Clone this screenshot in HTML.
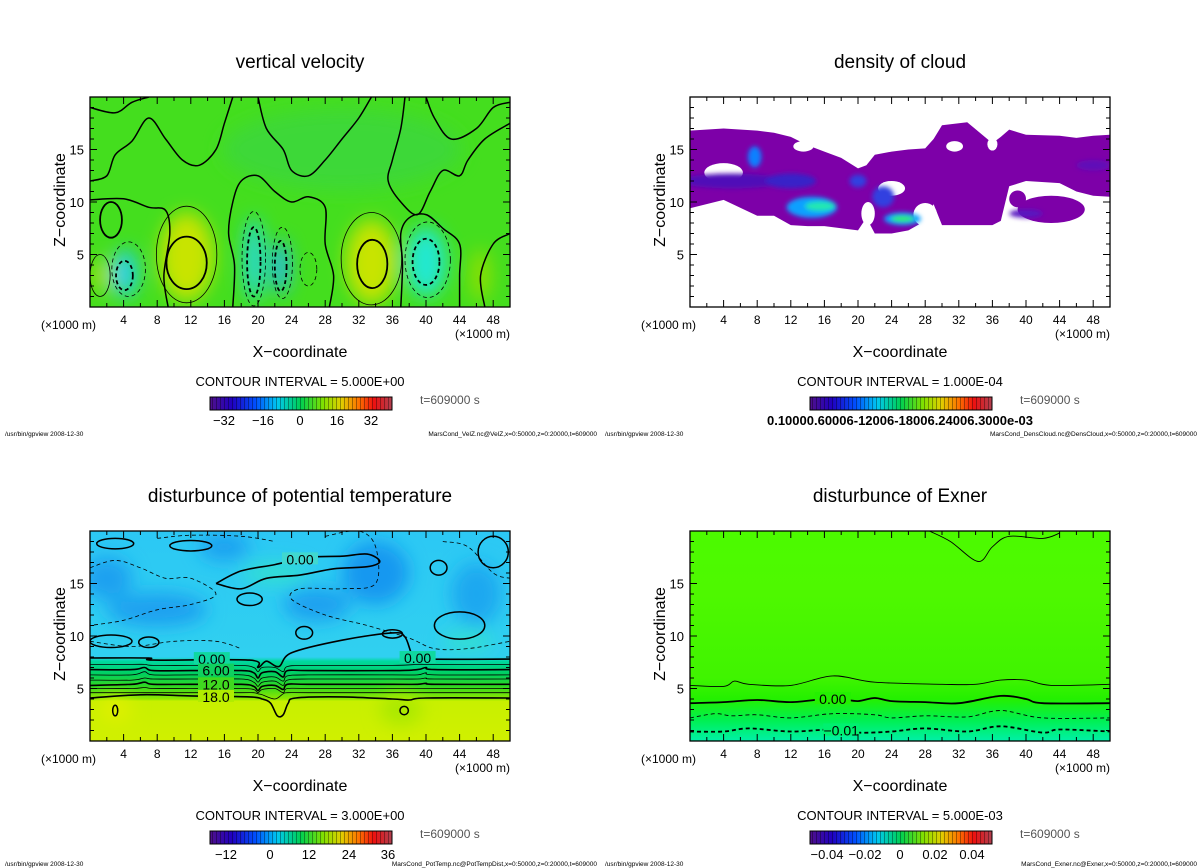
<!DOCTYPE html>
<html><head><meta charset="utf-8"><style>
html,body{margin:0;padding:0;background:#fff;}
svg{display:block;font-family:"Liberation Sans",sans-serif;}
.t{font-size:19px;text-anchor:middle;}
.lab{font-size:16px;text-anchor:middle;}
.tk{font-size:12px;text-anchor:middle;}
.yt{font-size:13px;text-anchor:end;}
.ci{font-size:13px;text-anchor:middle;}
.tm{font-size:12px;fill:#555;}
.ft{font-size:6.5px;}
.cl{font-size:13px;font-weight:bold;}
</style></head><body>
<svg id="fig" width="1200" height="868" viewBox="0 0 1200 868" xmlns="http://www.w3.org/2000/svg">
<defs>
<linearGradient id="rb" x1="0" x2="1" y1="0" y2="0">
<stop offset="0" stop-color="#50108a"/><stop offset="0.12" stop-color="#2000c0"/><stop offset="0.25" stop-color="#0050ff"/><stop offset="0.37" stop-color="#00c8f0"/><stop offset="0.5" stop-color="#00d050"/><stop offset="0.62" stop-color="#80e000"/><stop offset="0.72" stop-color="#e0d000"/><stop offset="0.82" stop-color="#ff7000"/><stop offset="0.9" stop-color="#ee1010"/><stop offset="1" stop-color="#b04050"/>
</linearGradient>
<pattern id="stripes" width="4" height="20" patternUnits="userSpaceOnUse"><rect x="0" y="0" width="1" height="20" fill="rgba(0,0,0,0.35)"/></pattern>
<filter id="bl" x="-50%" y="-50%" width="200%" height="200%"><feGaussianBlur stdDeviation="9"/></filter>
<filter id="bl2" x="-50%" y="-50%" width="200%" height="200%"><feGaussianBlur stdDeviation="2.5"/></filter>
<linearGradient id="exg" x1="0" x2="0" y1="0" y2="1">
<stop offset="0" stop-color="#4cfb00"/><stop offset="0.3" stop-color="#4ef800"/><stop offset="0.7" stop-color="#40f400"/><stop offset="0.8" stop-color="#24f000"/><stop offset="0.9" stop-color="#00f050"/><stop offset="1" stop-color="#00f0a8"/>
</linearGradient>
<linearGradient id="ptg" x1="0" x2="0" y1="0" y2="1">
<stop offset="0" stop-color="#2cc8f4"/><stop offset="0.6" stop-color="#30d0f0"/><stop offset="0.62" stop-color="#00d8a0"/><stop offset="0.68" stop-color="#00d060"/><stop offset="0.74" stop-color="#30d820"/><stop offset="0.8" stop-color="#90e800"/><stop offset="0.81" stop-color="#c8f000"/><stop offset="1" stop-color="#d0f000"/>
</linearGradient>
<clipPath id="c0"><rect x="90" y="97" width="420" height="210"/></clipPath>
<clipPath id="c1"><rect x="690" y="97" width="420" height="210"/></clipPath>
<clipPath id="c2"><rect x="90" y="531" width="420" height="210"/></clipPath>
<clipPath id="c3"><rect x="690" y="531" width="420" height="210"/></clipPath>
</defs>

<text class="t" x="300" y="68">vertical velocity</text>
<text class="t" x="900" y="68">density of cloud</text>
<text class="t" x="300" y="502">disturbunce of potential temperature</text>
<text class="t" x="900" y="502">disturbunce of Exner</text>

<text class="lab" transform="translate(65,200) rotate(-90)">Z−coordinate</text>
<text class="lab" transform="translate(665,200) rotate(-90)">Z−coordinate</text>
<text class="lab" transform="translate(65,634) rotate(-90)">Z−coordinate</text>
<text class="lab" transform="translate(665,634) rotate(-90)">Z−coordinate</text>

<text class="lab" x="300" y="357">X−coordinate</text>
<text class="lab" x="900" y="357">X−coordinate</text>
<text class="lab" x="300" y="791">X−coordinate</text>
<text class="lab" x="900" y="791">X−coordinate</text>

<g font-size="12">
<text x="41" y="329">(×1000 m)</text>
<text x="455" y="338">(×1000 m)</text>
<text x="641" y="329">(×1000 m)</text>
<text x="1055" y="338">(×1000 m)</text>
<text x="41" y="763">(×1000 m)</text>
<text x="455" y="772">(×1000 m)</text>
<text x="641" y="763">(×1000 m)</text>
<text x="1055" y="772">(×1000 m)</text>
</g>

<text class="ci" x="300" y="386">CONTOUR INTERVAL = 5.000E+00</text>
<text class="ci" x="900" y="386">CONTOUR INTERVAL = 1.000E-04</text>
<text class="ci" x="300" y="820">CONTOUR INTERVAL = 3.000E+00</text>
<text class="ci" x="900" y="820">CONTOUR INTERVAL = 5.000E-03</text>

<text class="tm" x="420" y="404">t=609000 s</text>
<text class="tm" x="1020" y="404">t=609000 s</text>
<text class="tm" x="420" y="838">t=609000 s</text>
<text class="tm" x="1020" y="838">t=609000 s</text>

<text class="ft" x="5" y="436">/usr/bin/gpview  2008-12-30</text>
<text class="ft" x="597" y="436" text-anchor="end">MarsCond_VelZ.nc@VelZ,x=0:50000,z=0:20000,t=609000</text>
<text class="ft" x="605" y="436">/usr/bin/gpview  2008-12-30</text>
<text class="ft" x="1197" y="436" text-anchor="end">MarsCond_DensCloud.nc@DensCloud,x=0:50000,z=0:20000,t=609000</text>
<text class="ft" x="5" y="866">/usr/bin/gpview  2008-12-30</text>
<text class="ft" x="597" y="866" text-anchor="end">MarsCond_PotTemp.nc@PotTempDist,x=0:50000,z=0:20000,t=609000</text>
<text class="ft" x="605" y="866">/usr/bin/gpview  2008-12-30</text>
<text class="ft" x="1197" y="866" text-anchor="end">MarsCond_Exner.nc@Exner,x=0:50000,z=0:20000,t=609000</text>

<text class="cl" x="900" y="425" text-anchor="middle">0.10000.60006-12006-18006.24006.3000e-03</text>

<g id="layer"></g>
</svg>
<script>
const xTicks = [4,8,12,16,20,24,28,32,36,40,44,48];
const yTicks = [5,10,15];
const cbLabels1 = ["−32","−16","0","16","32"];
const cbPos1 = [224,263,300,337,371];
const cbLabels3 = ["−12","0","12","24","36"];
const cbPos3 = [226,270,309,349,388];
const cbLabels4 = ["−0.04","−0.02","0","0.02","0.04"];
const cbPos4 = [827,865,900,935,972];

const vvBlobs = [[11.5,4.8,3.2,4.2,"#c8e400"],[33.5,4.3,3.0,4.0,"#c8e400"],[4.2,3.2,1.4,2.3,"#20d0f0"],[19.5,4.5,1.1,4.0,"#20d8e0"],[22.7,3.8,1.0,2.6,"#20b8f0"],[40,4.3,2.4,3.3,"#20e8d0"],[1.5,3,1.2,1.6,"#a0e000"],[46.5,3,1.2,2.5,"#90e000"]];
const vvRings = [[11.5,4.2,2.4,2.5,0,1],[11.5,5,3.6,4.6,0,0],[33.6,4.1,1.8,2.3,0,1],[33.5,4.6,3.6,4.4,0,0],[4.1,3,1.0,1.4,1,1],[4.6,3.6,2.0,2.6,1,0],[40,4.3,1.6,2.2,1,1],[40.2,4.5,2.7,3.6,1,0],[19.5,4.3,0.8,3.3,1,1],[19.5,4.6,1.4,4.5,1,0],[22.7,3.9,0.7,2.4,1,1],[22.9,4.2,1.2,3.4,1,0],[1.2,3,1.2,2,0,0],[26,3.6,1.0,1.6,1,0],[2.5,8.3,1.3,1.7,0,1]];
const vvLine1 = [[0,12],[2,12.5],[3,14.5],[5,15.8],[7,18],[9,16],[11,14],[13,13.5],[15,15],[16,17.5],[17,20]];
const vvLine2 = [[20,20],[21,17],[23,15],[24,13],[26,12.5],[28,14],[30,16],[32,18],[33.5,20]];
const vvLine3 = [[37.5,20],[37,17],[36,14],[35.5,12],[37,10],[39,8.8],[40.5,11],[42,13],[44,12.5],[45,14],[47,16],[50,17.5]];
const vvLine4 = [[0,10.2],[4,10.3],[7,9.5],[9,9.2],[9.5,7],[8.8,3],[9.3,0]];
const vvLine5 = [[17,0],[17.2,4],[16.5,7],[17,10],[18,12],[20,12.5],[22,11],[24,10],[26,10.5],[28,9.5],[28,6],[29,3],[28.5,0]];
const vvLine6 = [[37,0],[37.2,4],[37,7],[38,8.5],[40,8.8],[42,7.5],[44,6],[44,3],[44,0]];
const vvLine7 = [[47,0],[46.5,3],[48,6],[50,7]];
const vvLine8 = [[0,19],[3,18.5],[5,19.5],[7,20]];
const vvLine9 = [[40,20],[41,18],[43,16],[46,17],[48,19],[50,19.5]];

const clX = [0,4,8,10,12,14,16,18,20,21,22,24,26,28,29,30,33,36,37,38,40,44,46,48,50];
const clTop = [16.8,17,16.8,16.6,16.2,15.4,14.8,14.2,13.2,13.5,14.5,14.8,15,15.1,16,17.3,17.6,15.6,16.2,16.9,16.4,16.3,16.1,16.3,16.4];
const clBot = [9.4,10.2,8.7,8.7,7.8,7.7,7.7,7.5,7.3,8.5,7.0,7.0,7.3,8.2,9.8,7.8,7.8,7.8,8.2,11.5,12,11.8,11,10.6,10.5];
const clHoles = [[4,12.8,2.3,0.9],[24,11.3,1.6,0.7],[21.2,8.9,0.8,1.1],[28,8.8,1.4,1.1],[13.5,15.3,1.2,0.5],[31.5,15.3,1.0,0.5],[36,15.5,0.6,0.6],[2,8.5,2,1]];
const clExtra = [[43,9.3,4,1.3],[39,10.3,1,0.8]];
const clCores = [[5,12,6,0.7,"#5010b8"],[7.7,14.3,0.8,1.0,"#1080ff"],[12,12,3,0.7,"#3820c8"],[14.5,9.5,3.0,1.0,"#10a0ff"],[15.5,9.6,1.8,0.45,"#20e8b0"],[25.3,8.4,2.2,0.6,"#10a0ff"],[25.3,8.4,1.4,0.3,"#30f060"],[20,12,1.0,0.6,"#3040e0"],[23,10.5,1.3,1.0,"#3040e0"],[40,8.9,2,0.4,"#5818c0"],[48,13.5,2,0.5,"#6010b8"]];

const ptBlobs = [[34,16,4,3,"#1898f0"],[8,12.5,6,1.6,"#1aa0f0"],[27,13,4,1.6,"#1aa0f0"],[2,15.5,3,2,"#1aa0f0"],[16,18.5,3,1.3,"#1aa0f0"],[46,14,3,3,"#1ea8f0"],[22,16,4,1.0,"#30e0d0"],[45,9.5,3,1,"#30e0d0"],[3,3,2,1.2,"#e0f000"],[37,3,2.5,1.5,"#a8e800"]];
const ptXs = [0,5,6.5,7.5,12,18,19.5,20,20.5,22,23,23.5,26,36,39,40,41,50];
const ptL1 = [7.3,7.3,7.3,7.2,7.2,7.2,7.0,6.6,7.0,7.0,6.6,7.1,7.2,7.2,7.3,7.3,7.3,7.3];
const ptL2 = [6.8,6.8,7.0,6.7,6.7,6.7,6.5,6.0,6.5,6.6,6.1,6.7,6.7,6.7,6.8,7.0,6.8,6.8];
const ptL3 = [6.3,6.3,6.6,6.3,6.3,6.3,6.0,5.6,6.0,6.1,5.7,6.2,6.3,6.3,6.3,6.5,6.3,6.3];
const ptL4 = [5.8,5.8,6.0,5.9,5.9,5.9,5.6,5.2,5.6,5.7,5.3,5.8,5.9,5.9,5.9,6.0,5.9,5.9];
const ptL5 = [5.3,5.4,5.6,5.4,5.4,5.4,5.2,4.8,5.2,5.3,4.9,5.4,5.4,5.4,5.4,5.5,5.4,5.4];
const ptL6 = [5.0,5.0,5.1,5.0,5.0,5.0,4.9,4.6,4.9,5.0,4.6,5.0,5.0,5.0,5.0,5.0,5.0,5.0];
const ptL7 = [4.6,4.6,4.6,4.6,4.6,4.6,4.6,4.5,4.4,4.0,4.5,4.6,4.6,4.6,4.6,4.6,4.6,4.6];
const ptZero = [[0,7.9],[7,7.9],[7.5,7.7],[19,7.7],[20,7.0],[21,7.6],[22.5,7.1],[24,8.4],[30,9.6],[36,10.3],[37.5,9.9],[38.5,8.0],[40,7.8],[50,7.8]];
const pt18 = [[0,4.1],[6,4.4],[12,4.3],[19,4.2],[20.5,4.0],[21.5,3.6],[22.3,2.4],[23,2.5],[23.6,3.6],[24.5,4.1],[30,4.2],[36,4.0],[38,3.9],[40,4.1],[50,4.1]];
const ptTop0 = [[15,15],[18,16.2],[22,16.8],[26,17.5],[30,17.6],[33,17.8],[34.5,17.1],[33,16.6],[29,16.4],[25,15.8],[21,15.5],[18,14.5],[15,15]];
const ptLoops = [[3,18.8,2.2,0.5],[12,18.6,2.5,0.5],[48,18,1.8,1.5],[41.5,16.5,1,0.7],[44,11,3,1.3],[2.5,9.5,2.5,0.6],[7,9.4,1.2,0.5],[36,10.2,1.2,0.4],[3,2.9,0.3,0.5],[37.4,2.9,0.5,0.4],[19,13.5,1.5,0.6],[25.5,10.3,1,0.6]];
const ptDash1 = [[0,16.5],[3,17.2],[6,16.5],[9,15.5],[12,15.5],[15,14],[12,13],[8,12.5],[4,11.5],[0,11]];
const ptDash2 = [[0,9.5],[5,9],[10,9.5],[15,9.5],[18,8.8]];
const ptDash3 = [[28,19.5],[32,20],[34,18.5],[34,15],[30,14.5],[25,14.5],[24,13.5],[28,12],[33,11],[38,9.8],[41,8.8],[45,8.8],[50,9.5]];
const ptDash4 = [[42,19],[45,18.5],[48,16],[50,15.5]];
const ptDash5 = [[8,19.3],[12,19.6],[18,19.5],[22,19]];

const exTop = [[28.5,20],[31,19],[34.3,17.1],[36,18.5],[38,19.5],[42,19.3],[44,19.8]];
const exL1 = [[0,5.3],[4,5.2],[5.3,5.7],[7,5.4],[12,5.3],[17,6.2],[22,5.6],[30,5.4],[34,5.4],[37,5.8],[40,5.8],[43,5.3],[50,5.4]];
const exL0 = [[0,3.6],[4,3.7],[8,3.9],[12,3.7],[16,4.0],[18,4.0],[20,3.8],[22,4.1],[24,3.8],[28,3.7],[32,3.6],[37,4.3],[40,4.0],[42,3.6],[50,3.6]];
const exD1 = [[0,2.2],[3,2.6],[5,2.4],[8,2.5],[12,2.2],[17,2.6],[22,2.5],[24,2.2],[28,2.4],[33,2.3],[37,2.9],[42,2.2],[50,2.2]];
const exD2 = [[0,0.9],[4,0.9],[7,1.2],[12,0.9],[17,1.1],[20,0.8],[24,0.9],[28,1.2],[33,0.9],[37,1.4],[42,0.8],[44,1.1],[50,0.9]];

const NS = "http://www.w3.org/2000/svg";
const layer = document.getElementById("layer");
const P = [{x0:90,y0:97},{x0:690,y0:97},{x0:90,y0:531},{x0:690,y0:531}];
const W = 420, H = 210;
function sx(p,x){return P[p].x0 + x/50*W;}
function sz(p,z){return P[p].y0 + H - z/20*H;}
function mk(tag, attrs, parent){const e=document.createElementNS(NS,tag);for(const k in attrs)e.setAttribute(k,attrs[k]);(parent||layer).appendChild(e);return e;}
function smooth(p, pts, closed){
  const q = pts.map(v=>[sx(p,v[0]),sz(p,v[1])]);
  let d = "M"+q[0][0].toFixed(1)+","+q[0][1].toFixed(1);
  for(let i=0;i<q.length-1;i++){
    const p0=q[Math.max(0,i-1)],p1=q[i],p2=q[i+1],p3=q[Math.min(q.length-1,i+2)];
    const c1=[p1[0]+(p2[0]-p0[0])/6,p1[1]+(p2[1]-p0[1])/6];
    const c2=[p2[0]-(p3[0]-p1[0])/6,p2[1]-(p3[1]-p1[1])/6];
    d+="C"+c1[0].toFixed(1)+","+c1[1].toFixed(1)+" "+c2[0].toFixed(1)+","+c2[1].toFixed(1)+" "+p2[0].toFixed(1)+","+p2[1].toFixed(1);
  }
  return d+(closed?"Z":"");
}
function line(p, g, pts, w, dash, name){
  const e = mk("path",{d:smooth(p,pts,false),fill:"none",stroke:"#000","stroke-width":w,"stroke-dasharray":dash?"4,3":"none"},g);
  
  
  return e;
}
function ell(p,g,b,attrs){return mk("ellipse",Object.assign({cx:sx(p,b[0]),cy:sz(p,b[1]),rx:b[2]/50*W,ry:b[3]/20*H},attrs),g);}
function clabel(p,g,x,z,txt,bg){
  mk("rect",{x:sx(p,x)-18,y:sz(p,z)-7,width:36,height:12,fill:bg},g);
  const t = mk("text",{x:sx(p,x),y:sz(p,z)+5,"font-size":"14","text-anchor":"middle"},g);
  t.textContent = txt;
  
  
}

(function(){
  const p=0; const g=mk("g",{"clip-path":"url(#c0)"});
  
  
  mk("rect",{x:90,y:97,width:W,height:H,fill:"#44de1e"},g);
  const gb = mk("g",{filter:"url(#bl)"},g);
  mk("ellipse",{cx:sx(p,30),cy:sz(p,15),rx:120,ry:40,fill:"#3cd838"},gb);
  vvBlobs.forEach(b=>{const e=ell(p,gb,b,{fill:b[4]});
    
    });
  vvRings.forEach(b=>{const e=ell(p,g,b,{fill:"none",stroke:"#000","stroke-width":b[5]?1.8:0.8,"stroke-dasharray":b[4]?"4,3":"none"});
    
    });
  [vvLine1,vvLine2,vvLine3,vvLine4,vvLine5,vvLine6,vvLine7,vvLine8,vvLine9].forEach(l=>line(p,g,l,1.5,false,'zero-contour'));
})();

(function(){
  const p=1; const g=mk("g",{"clip-path":"url(#c1)"});
  
  
  const pts = clX.map((x,i)=>[x,clTop[i]]).concat(clX.map((x,i)=>[x,clBot[i]]).reverse());
  const poly = mk("polygon",{points:pts.map(v=>sx(p,v[0]).toFixed(1)+","+sz(p,v[1]).toFixed(1)).join(" "),fill:"#7d00a8"},g);
  
  
  clExtra.forEach(b=>{const e=ell(p,g,b,{fill:"#7d00a8"});
    
    });
  clHoles.forEach(b=>{const e=ell(p,g,b,{fill:"#fff"});
    
    });
  const gc = mk("g",{filter:"url(#bl2)"},g);
  clCores.forEach(b=>{const e=ell(p,gc,b,{fill:b[4]});
    
    });
})();

(function(){
  const p=2; const g=mk("g",{"clip-path":"url(#c2)"});
  
  
  mk("rect",{x:90,y:531,width:W,height:H,fill:"url(#ptg)"},g);
  const gb = mk("g",{filter:"url(#bl)"},g);
  ptBlobs.forEach(b=>{const e=ell(p,gb,b,{fill:b[4]});
    
    });
  const lv=[ptL1,ptL2,ptL3,ptL4,ptL5,ptL6,ptL7], wd=[0.8,1.6,0.8,0.8,1.6,0.8,0.8];
  lv.forEach((a,i)=>line(p,g,ptXs.map((x,j)=>[x,a[j]]),wd[i],false,'temperature-contour'));
  line(p,g,ptZero,1.6,false,'zero-contour');
  line(p,g,pt18,1.6,false,'contour-18');
  line(p,g,ptTop0,1.6,false,'zero-contour-upper');
  ptLoops.forEach(b=>{const e=ell(p,g,b,{fill:"none",stroke:"#000","stroke-width":1.5});
    
    });
  [ptDash1,ptDash2,ptDash3,ptDash4,ptDash5].forEach(l=>line(p,g,l,0.8,true,'negative-contour'));
  clabel(p,g,25,17.3,"0.00","#40d8d0");
  clabel(p,g,14.5,7.8,"0.00","#10d8a0"); clabel(p,g,39,7.9,"0.00","#10d8a0");
  clabel(p,g,15,6.7,"6.00","#10d060"); clabel(p,g,15,5.4,"12.0","#40d820"); clabel(p,g,15,4.2,"18.0","#b0ec00");
})();

(function(){
  const p=3; const g=mk("g",{"clip-path":"url(#c3)"});
  
  
  mk("rect",{x:690,y:531,width:W,height:H,fill:"url(#exg)"},g);
  line(p,g,exTop,0.9,false,'exner-contour-top');
  line(p,g,exL1,0.9,false,'exner-contour');
  line(p,g,exL0,1.8,false,'exner-zero-contour');
  line(p,g,exD1,0.9,true,'exner-negative-contour');
  line(p,g,exD2,1.8,true,'exner-negative-contour');
  clabel(p,g,17,4.0,"0.00","#24f000"); clabel(p,g,18,1.0,"−0.01","#00f070");
})();

for(let p=0;p<4;p++){
  const f = mk("rect",{x:P[p].x0,y:P[p].y0,width:W,height:H,fill:"none",stroke:"#000","stroke-width":1.3});
  
  
  let d="";
  for(let x=1;x<50;x++){const L=(x%4===0)?7:(x%2===0?4:0); if(!L)continue; const X=sx(p,x);
    d+="M"+X+","+(P[p].y0+H)+"v"+(-L)+"M"+X+","+P[p].y0+"v"+L;}
  for(let z=1;z<20;z++){const L=(z%5===0)?7:4; const Y=sz(p,z);
    d+="M"+P[p].x0+","+Y+"h"+L+"M"+(P[p].x0+W)+","+Y+"h"+(-L);}
  const tk = mk("path",{d:d,stroke:"#000","stroke-width":1,fill:"none"});
  
  
  xTicks.forEach(v=>{const t=mk("text",{x:sx(p,v),y:P[p].y0+H+17,class:"tk"});t.textContent=v;
    
    });
  yTicks.forEach(v=>{const t=mk("text",{x:P[p].x0-6,y:sz(p,v)+5,class:"yt"});t.textContent=v;
    
    });
}

const cbs=[[210,397],[810,397],[210,831],[810,831]];
cbs.forEach((c,i)=>{
  const r=mk("rect",{x:c[0],y:c[1],width:182,height:13,fill:"url(#rb)",stroke:"#000","stroke-width":1});
  
  
  const s=mk("rect",{x:c[0],y:c[1],width:182,height:13,fill:"url(#stripes)"});
  
  
});
function cbl(labels,pos,y){labels.forEach((l,i)=>{const t=mk("text",{x:pos[i],y:y,"font-size":"13","text-anchor":"middle"});t.textContent=l;
  
  });}
cbl(cbLabels1,cbPos1,425); cbl(cbLabels3,cbPos3,859); cbl(cbLabels4,cbPos4,859);
</script>
</body></html>
